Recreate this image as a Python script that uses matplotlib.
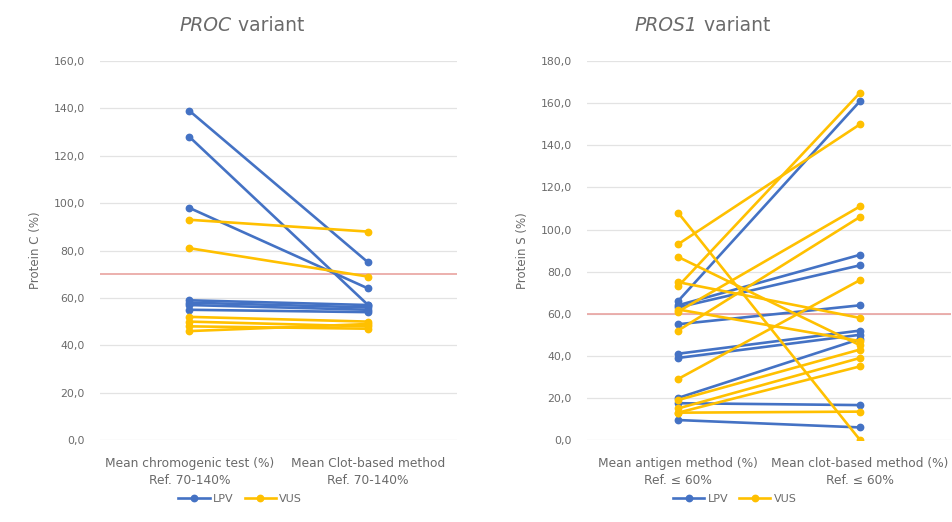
import matplotlib.pyplot as plt
from matplotlib.lines import Line2D

# PROC panel (protein C, %)
proc_categories = ["Mean chromogenic test (%)\nRef. 70-140%", "Mean Clot-based method\nRef. 70-140%"]
proc_lpv_before = [139, 128, 98, 59, 58, 57, 55]
proc_lpv_after = [75, 57, 64, 57, 56, 55, 54]
proc_vus_before = [93, 81, 52, 50, 48, 46]
proc_vus_after = [88, 69, 50, 48, 47, 49]
proc_ref = 70

# PROS1 panel (protein S, %)
pros_categories = ["Mean antigen method (%)\nRef. \u2264 60%", "Mean clot-based method (%)\nRef. \u2264 60%"]
pros_lpv_before = [66, 64, 63, 55, 41, 39, 20, 17.5, 9.5]
pros_lpv_after = [161, 88, 83, 64, 52, 50, 48, 16.6, 6]
pros_vus_before = [108, 93, 87, 73, 75, 62, 61, 52, 29, 19, 15, 13, 13]
pros_vus_after = [0, 150, 45, 165, 58, 47, 111, 106, 76, 43, 39, 35, 13.5]
pros_ref = 60

BLUE = "#4472C4"
YELLOW = "#FFC000"
TEXT = "#6A6A6A"
GRID = "#E3E3E3"
REF = "#E9A3A0"


def draw_panel(ax, categories, lpv_before, lpv_after, vus_before, vus_after, ref, ymax, ylabel):
    ax.axhline(ref, color=REF, lw=1.2, zorder=1)
    for b, a in zip(lpv_before, lpv_after):
        ax.plot([0, 1], [b, a], color=BLUE, lw=1.9, marker="o", ms=4.6, zorder=3)
    for b, a in zip(vus_before, vus_after):
        ax.plot([0, 1], [b, a], color=YELLOW, lw=1.9, marker="o", ms=4.6, zorder=3)

    ax.set_xlim(-0.5, 1.5)
    ax.set_ylim(0, ymax)
    ax.set_yticks(range(0, ymax + 1, 20))
    ax.set_yticklabels([f"{v},0" for v in range(0, ymax + 1, 20)], color=TEXT, fontsize=7.8)
    ax.set_xticks([0, 1])
    ax.set_xticklabels(categories, color=TEXT, fontsize=8.8, linespacing=1.45)
    ax.tick_params(length=0)
    ax.tick_params(axis="x", pad=12)
    ax.tick_params(axis="y", pad=11)
    ax.grid(axis="y", color=GRID, lw=0.9, zorder=0)
    ax.set_axisbelow(True)
    for s in ax.spines.values():
        s.set_visible(False)
    ax.set_ylabel(ylabel, color=TEXT, fontsize=8.5, labelpad=8)


fig = plt.figure(figsize=(9.53, 5.22), dpi=100)
ax1 = fig.add_axes([0.105, 0.157, 0.375, 0.726])
ax2 = fig.add_axes([0.616, 0.157, 0.382, 0.726])

draw_panel(ax1, proc_categories, proc_lpv_before, proc_lpv_after,
           proc_vus_before, proc_vus_after, proc_ref, 160, "Protein C (%)")
draw_panel(ax2, pros_categories, pros_lpv_before, pros_lpv_after,
           pros_vus_before, pros_vus_after, pros_ref, 180, "Protein S (%)")

# titles: italic gene name followed by plain word
for split_x, gene in ((0.243, "PROC"), (0.732, "PROS1")):
    fig.text(split_x, 0.952, gene, ha="right", va="center", color=TEXT, fontsize=13.5, style="italic")
    fig.text(split_x, 0.952, " variant", ha="left", va="center", color=TEXT, fontsize=13.5)

handles = [Line2D([], [], color=BLUE, lw=1.9, marker="o", ms=4.6, label="LPV"),
           Line2D([], [], color=YELLOW, lw=1.9, marker="o", ms=4.6, label="VUS")]
for x in (0.252, 0.771):
    fig.legend(handles=handles, loc="center", bbox_to_anchor=(x, 0.045), ncol=2, frameon=False,
               fontsize=8, labelcolor=TEXT, handlelength=2.8, columnspacing=1.0, handletextpad=0.3)

fig.savefig("out.png", dpi=100, facecolor="white")
